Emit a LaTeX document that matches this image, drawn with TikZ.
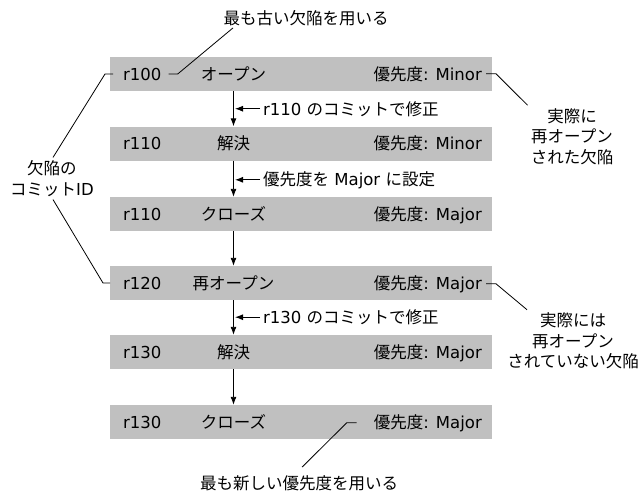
\documentclass[tikz,border=0pt]{standalone}
\usepackage{fontspec}
\setmainfont{DejaVu Sans}
\newfontfamily\jp{Noto Sans CJK JP}
\usetikzlibrary{arrows.meta}
\definecolor{barg}{RGB}{192,192,192}
\newcommand\myfs{\fontsize{16.5pt}{20.5pt}\selectfont}
\begin{document}
\begin{tikzpicture}[x=1pt,y=-1pt,
  bar/.style={fill=barg, draw=none, minimum width=382pt, minimum height=34pt, inner sep=0pt},
  txt/.style={inner sep=0pt, font=\myfs},
  lbl/.style={inner sep=3pt, font=\myfs, align=center},
  arr/.style={-{Latex[length=8pt,width=6pt]}, line width=0.9pt},
  lead/.style={line width=0.8pt}]
\useasboundingbox (0,0) rectangle (643,491);
% bars
\node[bar] (b1) at (301,74) {};
\node[bar] (b2) at (301,143.5) {};
\node[bar] (b3) at (301,214) {};
\node[bar] (b4) at (301,283) {};
\node[bar] (b5) at (301,352) {};
\node[bar] (b6) at (301,422) {};
% ids
\node[txt,anchor=base west] (i1) at (123,80) {r100};
\node[txt,anchor=base west] (i2) at (123,149.5) {r110};
\node[txt,anchor=base west] (i3) at (123,220) {r110};
\node[txt,anchor=base west] (i4) at (123,289) {r120};
\node[txt,anchor=base west] (i5) at (123,358) {r130};
\node[txt,anchor=base west] (i6) at (123,428) {r130};
% states
\node[txt,anchor=base] (s1) at (233.5,80) {\jp オープン};
\node[txt,anchor=base] (s2) at (233.5,149.5) {\jp 解決};
\node[txt,anchor=base] (s3) at (233.5,220) {\jp クローズ};
\node[txt,anchor=base] (s4) at (233.5,289) {\jp 再オープン};
\node[txt,anchor=base] (s5) at (233.5,358) {\jp 解決};
\node[txt,anchor=base] (s6) at (233.5,428) {\jp クローズ};
% priorities
\node[txt,anchor=base east] (p1) at (482,80) {{\jp 優先度}: Minor};
\node[txt,anchor=base east] (p2) at (482,149.5) {{\jp 優先度}: Minor};
\node[txt,anchor=base east] (p3) at (482,220) {{\jp 優先度}: Major};
\node[txt,anchor=base east] (p4) at (482,289) {{\jp 優先度}: Major};
\node[txt,anchor=base east] (p5) at (482,358) {{\jp 優先度}: Major};
\node[txt,anchor=base east] (p6) at (482,428) {{\jp 優先度}: Major};
% vertical arrows
\draw[arr] (s1 |- b1.south) -- (s1 |- b2.north);
\draw[arr] (s1 |- b2.south) -- (s1 |- b3.north);
\draw[arr] (s1 |- b3.south) -- (s1 |- b4.north);
\draw[arr] (s1 |- b4.south) -- (s1 |- b5.north);
\draw[arr] (s1 |- b5.south) -- (s1 |- b6.north);
% arrow labels
\node[txt,anchor=base west] (a1) at (263,115) {r110 {\jp のコミットで修正}};
\node[txt,anchor=base west] (a2) at (263,185) {{\jp 優先度を} Major {\jp に設定}};
\node[txt,anchor=base west] (a3) at (263,323.5) {r130 {\jp のコミットで修正}};
\draw[arr] ([xshift=-3pt]a1.west) -- ([xshift=1.5pt]s1 |- a1.west);
\draw[arr] ([xshift=-3pt]a2.west) -- ([xshift=1.5pt]s1 |- a2.west);
\draw[arr] ([xshift=-3pt]a3.west) -- ([xshift=1.5pt]s1 |- a3.west);
% side labels
\node[lbl] (lid) at (52,178.5) {{\jp 欠陥の}\\{\jp コミット}ID};
\node[lbl] (rl1) at (572,136.5) {{\jp 実際に}\\{\jp 再オープン}\\{\jp された欠陥}};
\node[lbl] (rl2) at (573,341) {{\jp 実際には}\\{\jp 再オープン}\\{\jp されていない欠陥}};
\node[txt] (t1) at (306,18) {\jp 最も古い欠陥を用いる};
\node[txt] (t2) at (299,483) {\jp 最も新しい優先度を用いる};
% leaders
\draw[lead] ([xshift=1pt]lid.north) -- ([xshift=-18pt]i1.west) -- ([xshift=-10pt]i1.west);
\draw[lead] ([xshift=1pt]lid.south) -- ([xshift=-20pt]i4.west) -- ([xshift=-13pt]i4.west);
\draw[lead] ([xshift=7pt]i1.east) -- ([xshift=16pt]i1.east) -- ([xshift=-73pt,yshift=-2pt]t1.south);
\draw[lead] ([xshift=4pt]p1.east) -- ([xshift=14pt]p1.east) -- (rl1.north west);
\draw[lead] ([xshift=4pt]p4.east) -- ([xshift=14pt]p4.east) -- ([xshift=-46pt]rl2.north);
\draw[lead] ([xshift=-17pt]p6.west) -- ([xshift=-27pt]p6.west) -- ([xshift=3pt,yshift=8pt]t2.north);
\end{tikzpicture}
\end{document}
